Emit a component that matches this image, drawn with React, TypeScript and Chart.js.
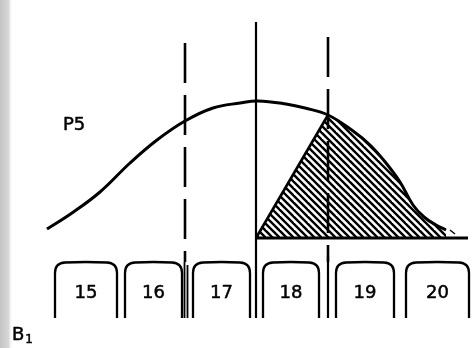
import React, { useEffect, useRef } from "react";
import { Chart, registerables } from "chart.js";

Chart.register(...registerables);

// Bell-shaped P5 curve (x position, height above baseline)
const curveX = [47, 72, 100, 130, 157, 185, 213, 240, 258, 286, 305, 328, 353, 370, 386, 400, 413, 424, 436, 446];
const curveY = [9, 25, 46, 75, 98, 117, 130, 135, 137, 134, 130, 123, 107, 93, 75, 56, 33, 21, 13, 8];

// hatched triangle start
const triangleBaseX = 256;
const apexX = 328;
const apexY = 123;
const baselineEndX = 468;

// vertical lines
const solidLineX = 256;
const solidLineTop = 216;
const dashedLinesX = [185, 328];
const dashedLinesTop = [195, 201];
const lineBottom = -24;
const rowBottom = -80;

// boxes (registers 15..20)
const boxLabels = ["15", "16", "17", "18", "19", "20"];
const boxLeft = [55, 125, 193, 263, 336, 406];
const boxRight = [117, 182, 250, 319, 394, 469];
const boxTop = -25;
const boxBottom = -80;
const boxLabelBaseline = -60;

const curveLabel = "P5";
const curveLabelPos = [63, 108];
const cornerLabel = "B";
const cornerSub = "1";
const cornerLabelPos = [12, -102];

function makeHatch(): CanvasPattern | string {
  const c = document.createElement("canvas");
  const s = 7;
  c.width = 14;
  c.height = 14;
  const g = c.getContext("2d");
  if (!g) return "#000";
  g.strokeStyle = "#000";
  g.lineWidth = 2.4;
  for (let k = -2; k <= 2; k++) {
    g.beginPath();
    g.moveTo(-2, -2 + k * s);
    g.lineTo(16, 16 + k * s);
    g.stroke();
  }
  const p = g.createPattern(c, "repeat");
  return p || "#000";
}

const FONT = "'DejaVu Sans', sans-serif";

export default function App() {
  const ref = useRef<HTMLCanvasElement>(null);
  useEffect(() => {
    document.body.style.margin = "0";
    const canvas = ref.current!;
    const hatch = makeHatch();
    const curve = curveX.map((x, i) => ({ x, y: curveY[i] }));
    const right = curve.filter((p) => p.x >= apexX);

    const bgPlugin = {
      id: "bg",
      beforeDraw(chart: any) {
        const ctx = chart.ctx;
        ctx.save();
        ctx.fillStyle = "#ffffff";
        ctx.fillRect(0, 0, chart.width, chart.height);
        const g = ctx.createLinearGradient(0, 0, 13, 0);
        g.addColorStop(0, "#c4c4c4");
        g.addColorStop(0.65, "#d6d6d6");
        g.addColorStop(1, "rgba(255,255,255,0)");
        ctx.fillStyle = g;
        ctx.fillRect(0, 0, 13, chart.height);
        ctx.restore();
      },
    };

    const drawText = (ctx: any, s: string, x: number, y: number) => {
      ctx.lineWidth = 0.5;
      ctx.strokeText(s, x, y);
      ctx.fillText(s, x, y);
    };

    const boxesPlugin = {
      id: "boxes",
      afterDatasetsDraw(chart: any) {
        const ctx = chart.ctx;
        const xs = chart.scales.x;
        const ys = chart.scales.y;
        ctx.save();
        ctx.strokeStyle = "#000";
        ctx.lineJoin = "round";
        const t = ys.getPixelForValue(boxTop);
        const b = ys.getPixelForValue(boxBottom);
        boxLabels.forEach((lab, i) => {
          const l = xs.getPixelForValue(boxLeft[i]);
          const r = xs.getPixelForValue(boxRight[i]);
          const rad = 10;
          ctx.lineWidth = 2.3;
          ctx.beginPath();
          ctx.moveTo(l, b);
          ctx.lineTo(l, t + rad);
          ctx.quadraticCurveTo(l, t, l + rad, t - 0.5);
          ctx.quadraticCurveTo((l + r) / 2, t - 1.5, r - rad, t - 0.5);
          ctx.quadraticCurveTo(r, t, r, t + rad);
          ctx.lineTo(r, b);
          ctx.stroke();
          ctx.fillStyle = "#000";
          ctx.font = "18px " + FONT;
          ctx.textAlign = "center";
          ctx.textBaseline = "alphabetic";
          drawText(ctx, lab, (l + r) / 2, ys.getPixelForValue(boxLabelBaseline));
        });
        ctx.textAlign = "left";
        ctx.textBaseline = "alphabetic";
        ctx.font = "18px " + FONT;
        drawText(ctx, curveLabel, xs.getPixelForValue(curveLabelPos[0]), ys.getPixelForValue(curveLabelPos[1]));
        const bx = xs.getPixelForValue(cornerLabelPos[0]);
        const by = ys.getPixelForValue(cornerLabelPos[1]);
        ctx.font = "18px " + FONT;
        drawText(ctx, cornerLabel, bx, by);
        const w = ctx.measureText(cornerLabel).width;
        ctx.font = "12px " + FONT;
        drawText(ctx, cornerSub, bx + w + 1, by + 3);
        ctx.restore();
      },
    };

    const line = (data: any[], extra: any = {}) => ({
      data,
      showLine: true,
      pointRadius: 0,
      borderColor: "#000",
      borderWidth: 2,
      fill: false,
      tension: 0,
      ...extra,
    });

    const datasets: any[] = [
      line(curve, { borderWidth: 3, tension: 0.4 }),
      line([{ x: solidLineX, y: solidLineTop }, { x: solidLineX, y: rowBottom }], { borderWidth: 2.2 }),
      ...dashedLinesX.map((x, i) =>
        line([{ x, y: dashedLinesTop[i] }, { x, y: lineBottom }], { borderWidth: 2.6, borderDash: [40, 12] })
      ),
      line([{ x: dashedLinesX[0] - 0.5, y: lineBottom }, { x: dashedLinesX[0] - 0.5, y: rowBottom }], { borderWidth: 1.8 }),
      line([{ x: dashedLinesX[0] + 2.5, y: lineBottom - 3 }, { x: dashedLinesX[0] + 2.5, y: rowBottom }], { borderWidth: 1.8 }),
      line([{ x: dashedLinesX[1], y: lineBottom + 6 }, { x: dashedLinesX[1], y: rowBottom }], { borderWidth: 2.2 }),
      line([{ x: triangleBaseX, y: 0 }, { x: baselineEndX, y: 0 }], { borderWidth: 3 }),
      line([{ x: triangleBaseX, y: 0 }, { x: apexX, y: apexY }], {
        borderWidth: 2.6,
        fill: { value: 0 },
        backgroundColor: hatch,
      }),
      line(right, {
        borderWidth: 0,
        tension: 0.4,
        fill: { value: 0 },
        backgroundColor: hatch,
      }),
      line([{ x: 450, y: 8 }, { x: 455, y: 4 }], { borderWidth: 1.5 }),
    ];

    const chart = new Chart(canvas, {
      type: "scatter",
      data: { datasets },
      options: {
        animation: false,
        responsive: false,
        maintainAspectRatio: false,
        layout: { padding: 0 },
        plugins: { legend: { display: false }, tooltip: { enabled: false } },
        scales: {
          x: { type: "linear", min: 0, max: 473, display: false },
          y: { type: "linear", min: -110, max: 238, display: false },
        },
      },
      plugins: [bgPlugin, boxesPlugin],
    });
    return () => chart.destroy();
  }, []);

  return (
    <div style={{ position: "fixed", left: 0, top: 0, width: 473, height: 348 }}>
      <canvas ref={ref} width={473} height={348} />
    </div>
  );
}
